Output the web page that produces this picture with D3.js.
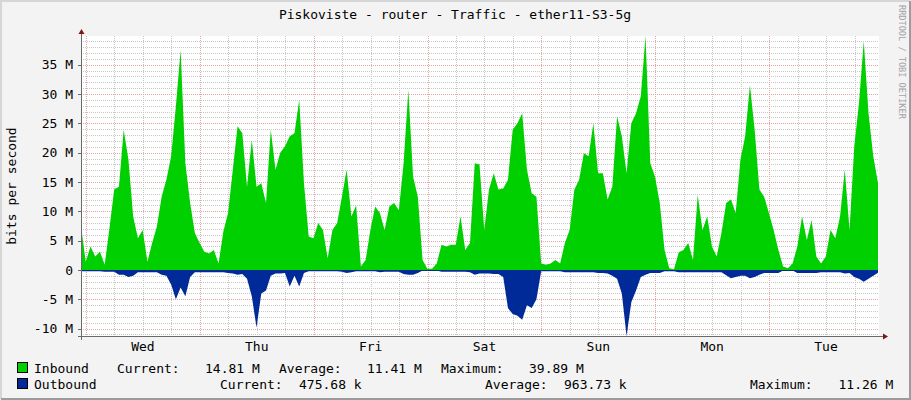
<!DOCTYPE html>
<html>
<head>
<meta charset="utf-8">
<script src="https://cdn.jsdelivr.net/npm/d3@7/dist/d3.min.js"></script>
<style>
  html, body { margin: 0; padding: 0; background: #f3f3f3; }
  svg { display: block; }
  text { font-family: "DejaVu Sans Mono", monospace; fill: #000; }
</style>
</head>
<body>
<svg id="chart"></svg>
<script>
// texts
const title = "Piskoviste - router - Traffic - ether11-S3-5g";
const yLabel = "bits per second";
const watermark = "RRDTOOL / TOBI OETIKER";
const dayLabels = ["Wed", "Thu", "Fri", "Sat", "Sun", "Mon", "Tue"];
const yTickValues = [-10, -5, 0, 5, 10, 15, 20, 25, 30, 35];
const yTickLabels = ["-10 M", "-5 M", "0", "5 M", "10 M", "15 M", "20 M", "25 M", "30 M", "35 M"];

// hourly samples in Mbit/s, starting Tue 22:57
const inboundM = [
  7.5, 1.4, 4.0, 2.3, 3.1, 0.9, 7.1, 13.7, 14.2, 23.9, 18.8, 9.1,
  5.4, 6.8, 1.4, 4.6, 7.4, 12.5, 15.4, 19.4, 27.9, 37.5, 18.2, 11.4,
  6.3, 4.6, 3.1, 2.8, 3.4, 1.1, 6.5, 9.7, 17.1, 24.5, 23.3, 14.2,
  22.2, 14.2, 14.8, 11.4, 23.9, 17.1, 20.0, 21.1, 22.8, 23.3, 29.0, 14.8,
  5.7, 5.4, 8.0, 6.8, 2.0, 6.8, 8.0, 12.5, 17.1, 9.1, 11.0, 0.6,
  1.7, 6.8, 10.8, 9.7, 6.8, 10.8, 11.4, 10.2, 18.2, 30.7, 15.9, 12.5,
  1.7, 0.2, 0.2, 1.1, 4.3, 4.0, 4.3, 4.3, 9.1, 3.4, 4.6, 18.2,
  18.0, 6.8, 13.7, 16.5, 13.7, 13.9, 15.4, 23.9, 25.0, 26.7, 17.1, 13.1,
  12.5, 1.1, 0.9, 1.1, 1.7, 1.1, 4.6, 6.8, 13.7, 15.4, 19.9, 19.4,
  25.0, 16.5, 16.5, 12.0, 14.2, 26.2, 22.8, 16.5, 25.0, 26.7, 29.6, 39.89,
  18.2, 15.9, 11.4, 3.4, 0.3, 0.1, 3.0, 3.4, 4.6, 1.7, 12.8, 6.8,
  9.1, 4.0, 2.3, 6.3, 11.4, 12.0, 9.7, 18.8, 22.8, 31.5, 23.9, 13.7,
  12.5, 9.7, 6.8, 3.4, 0.6, 0.3, 1.1, 4.0, 9.1, 5.1, 8.5, 2.3,
  1.1, 2.3, 6.8, 5.4, 9.1, 17.1, 6.8, 21.1, 28.5, 39.0, 26.7, 19.4,
  14.81
];
const outboundM = [
  0.2, 0.2, 0.2, 0.2, 0.2, 0.3, 0.3, 0.3, 0.8, 0.8, 1.2, 1.0,
  0.4, 0.4, 0.4, 0.4, 0.4, 0.8, 1.0, 2.5, 5.0, 3.0, 4.5, 1.2,
  0.4, 0.4, 0.4, 0.4, 0.4, 0.4, 0.4, 0.5, 0.6, 0.8, 0.7, 1.5,
  4.5, 9.8, 4.0, 3.5, 1.0, 0.6, 0.6, 0.5, 2.8, 1.0, 2.8, 0.5,
  0.2, 0.2, 0.2, 0.2, 0.2, 0.2, 0.2, 0.3, 0.5, 0.4, 0.2, 0.2,
  0.2, 0.2, 0.2, 0.4, 0.3, 0.3, 0.3, 0.3, 0.7, 0.8, 0.8, 0.5,
  0.1, 0.1, 0.1, 0.1, 0.3, 0.3, 0.3, 0.3, 0.3, 0.3, 0.4, 0.8,
  0.6, 0.6, 0.6, 0.7, 0.7, 1.2, 6.5, 7.5, 7.8, 8.5, 6.0, 6.5,
  5.0, 0.2, 0.2, 0.2, 0.2, 0.2, 0.4, 0.4, 0.4, 0.4, 0.4, 0.4,
  0.4, 0.5, 0.5, 0.6, 1.0, 1.5, 4.0, 11.26, 5.5, 3.5, 1.2, 0.8,
  0.5, 0.5, 0.5, 0.2, 0.2, 0.2, 0.4, 0.4, 0.4, 0.4, 0.4, 0.4,
  0.4, 0.4, 0.4, 0.4, 0.9, 1.4, 1.2, 1.0, 1.0, 1.4, 1.2, 0.8,
  0.5, 0.5, 0.5, 0.5, 0.1, 0.1, 0.1, 0.5, 0.5, 0.5, 0.5, 0.5,
  0.4, 0.4, 0.4, 0.4, 0.4, 0.6, 0.5, 1.2, 1.5, 2.0, 1.5, 1.0,
  0.48
];

// legend
const seriesNames = ["Inbound", "Outbound"];
const statNames = ["Current:", "Average:", "Maximum:"];
const seriesStats = [
  ["14.81 M", "11.41 M", "39.89 M"],
  ["475.68 k", "963.73 k", "11.26 M"]
];

const width = 911, height = 400;
const plotLeft = 81, plotRight = 878, plotTop = 36, plotBottom = 336;
const colors = { inbound: "#00cf00", outbound: "#002a97", grid: "#c8c8c8",
  mgrid: "#e4a3a3", axis: "#6a6a6a", arrow: "#7f1515" };

const start = new Date(2024, 0, 2, 22, 57);
const end = d3.timeDay.offset(start, 7);

var svg = d3.select("#chart").attr("width", width).attr("height", height);

// canvas and frame
svg.append("rect").attr("width", width).attr("height", height).attr("fill", "#f3f3f3");
svg.append("path").attr("d", "M1,399 V1 H910").attr("fill", "none")
  .attr("stroke", "#d6d6d6").attr("stroke-width", 2);
svg.append("path").attr("d", "M1,399 H910 V1").attr("fill", "none")
  .attr("stroke", "#9c9c9c").attr("stroke-width", 2);

var x = d3.scaleTime().domain([start, end]).range([plotLeft, plotRight]);
var y = d3.scaleLinear().domain([-11.26, 39.89]).range([plotBottom, plotTop]);

svg.append("rect").attr("x", plotLeft).attr("y", plotTop)
  .attr("width", plotRight - plotLeft + 1).attr("height", plotBottom - plotTop).attr("fill", "#fff");

var grid = svg.append("g").attr("shape-rendering", "crispEdges");

function hline(v, color) {
  var yy = Math.round(y(v)) + 0.5;
  grid.append("line")
    .attr("x1", plotLeft).attr("x2", plotRight)
    .attr("y1", yy).attr("y2", yy)
    .attr("stroke", color)
    .attr("stroke-dasharray", "1,1");
}

function vline(t, color) {
  var xx = Math.round(x(t)) + 0.5;
  grid.append("line")
    .attr("x1", xx).attr("x2", xx)
    .attr("y1", plotTop).attr("y2", plotBottom)
    .attr("stroke", color)
    .attr("stroke-dasharray", "1,1");
}

// minor grid: every 1 M and every 6 hours
var midnights = d3.timeDay.range(start, end);
d3.range(-11, 40).filter(function(v) { return v % 5 != 0; })
  .forEach(function(v) { hline(v, colors.grid); });
midnights.forEach(function(m) {
  [6, 12, 18].forEach(function(h) { vline(d3.timeHour.offset(m, h), colors.grid); });
});
// major grid: every 5 M and at midnight
d3.range(-10, 40, 5).forEach(function(v) { hline(v, colors.mgrid); });
midnights.forEach(function(m) { vline(m, colors.mgrid); });

function hourTime(i) {
  return d3.timeHour.offset(start, i);
}

var inArea = d3.area()
  .x(function(d, i) { return x(hourTime(i)); })
  .y0(y(0))
  .y1(function(d) { return y(d); });

var outArea = d3.area()
  .x(function(d, i) { return x(hourTime(i)); })
  .y0(y(0))
  .y1(function(d) { return y(-d); });

svg.append("path").datum(inboundM).attr("d", inArea).attr("fill", colors.inbound);
svg.append("path").datum(outboundM).attr("d", outArea).attr("fill", colors.outbound);

svg.append("line")
  .attr("x1", plotLeft).attr("x2", plotRight)
  .attr("y1", Math.round(y(0)) + 0.5).attr("y2", Math.round(y(0)) + 0.5)
  .attr("stroke", colors.outbound).attr("shape-rendering", "crispEdges");

// axes
var axes = svg.append("g").attr("shape-rendering", "crispEdges");
axes.append("line")
  .attr("x1", plotLeft + 0.5).attr("x2", plotLeft + 0.5)
  .attr("y1", plotBottom + 4).attr("y2", plotTop - 4)
  .attr("stroke", colors.axis);
axes.append("line")
  .attr("x1", plotLeft - 3).attr("x2", plotRight + 6)
  .attr("y1", plotBottom + 0.5).attr("y2", plotBottom + 0.5)
  .attr("stroke", colors.axis);
svg.append("path")
  .attr("d", "M" + (plotLeft - 2.5) + "," + (plotTop - 2) + " L" + (plotLeft + 0.5) + "," + (plotTop - 7) +
    " L" + (plotLeft + 3.5) + "," + (plotTop - 2) + " Z")
  .attr("fill", colors.arrow);
svg.append("path")
  .attr("d", "M" + (plotRight + 5) + "," + (plotBottom - 2.5) + " L" + (plotRight + 10) + "," + (plotBottom + 0.5) +
    " L" + (plotRight + 5) + "," + (plotBottom + 3.5) + " Z")
  .attr("fill", colors.arrow);

// y ticks
yTickValues.forEach(function(v, i) {
  var yy = Math.round(y(v)) + 0.5;
  axes.append("line")
    .attr("x1", plotLeft - 3).attr("x2", plotLeft)
    .attr("y1", yy).attr("y2", yy)
    .attr("stroke", colors.axis);
  svg.append("text")
    .attr("x", 73).attr("y", y(v) + 4.7)
    .attr("text-anchor", "end")
    .style("font-size", "13px")
    .text(yTickLabels[i]);
});

// day labels at noon
midnights.forEach(function(day, i) {
  svg.append("text")
    .attr("x", x(d3.timeHour.offset(day, 12)))
    .attr("y", 350.5)
    .attr("text-anchor", "middle")
    .style("font-size", "13px")
    .text(dayLabels[i]);
});

// title, axis label, watermark
svg.append("text")
  .attr("x", 455).attr("y", 19)
  .attr("text-anchor", "middle")
  .style("font-size", "13px")
  .text(title);

svg.append("text")
  .attr("transform", "translate(16," + (plotTop + plotBottom) / 2 + ") rotate(-90)")
  .attr("text-anchor", "middle")
  .style("font-size", "13px")
  .text(yLabel);

svg.append("text")
  .attr("transform", "translate(899,5) rotate(90)")
  .style("font-size", "8.6px")
  .style("fill", "#a3a3a3")
  .text(watermark);

// legend
var legendColors = [colors.inbound, colors.outbound];
var statLabelX = [[117, 279, 441], [220, 485, 750]];
var statValueX = [[205, 367, 529], [299, 564, 838.5]];
seriesNames.forEach(function(name, r) {
  var base = 373 + r * 16;
  svg.append("rect")
    .attr("x", 17.5).attr("y", base - 10.5)
    .attr("width", 10).attr("height", 10)
    .attr("fill", legendColors[r]).attr("stroke", "#000");
  svg.append("text").attr("x", 34).attr("y", base)
    .style("font-size", "13px").text(name);
  statNames.forEach(function(s, j) {
    svg.append("text").attr("x", statLabelX[r][j]).attr("y", base)
      .style("font-size", "13px").text(s);
    svg.append("text").attr("x", statValueX[r][j]).attr("y", base)
      .style("font-size", "13px").text(seriesStats[r][j]);
  });
});
</script>
</body>
</html>
